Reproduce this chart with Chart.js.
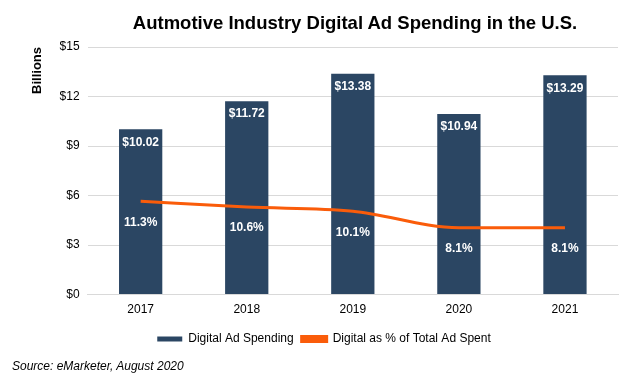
<!DOCTYPE html>
<html>
<head>
<meta charset="utf-8">
<script src="https://cdn.jsdelivr.net/npm/chart.js@4"></script>
<style>
  html, body { margin: 0; padding: 0; background: #fff; }
  #wrap { position: relative; width: 630px; height: 386px; }
  #title { position: absolute; left: 80px; width: 550px; top: 12px; text-align: center; font: bold 18.5px "Liberation Sans", Arial, sans-serif; color: #000; }
  #source { position: absolute; left: 12px; top: 359px; font: italic 12px "Liberation Sans", Arial, sans-serif; color: #000; }
</style>
</head>
<body>
<div id="wrap">
  <canvas id="chart-spend" width="630" height="386"></canvas>
  <div id="title">Autmotive Industry Digital Ad Spending in the U.S.</div>
  <div id="source">Source: eMarketer, August 2020</div>
</div>
<script>
const years = [`2017`, `2018`, `2019`, `2020`, `2021`];
const spending = [10.02, 11.72, 13.38, 10.94, 13.29];
const shareOfTotal = [11.3, 10.6, 10.1, 8.1, 8.1];
const dollarTicks = [0, 3, 6, 9, 12, 15];

const barColor = `#2b4663`;
const lineColor = `#fa5c0a`;
const font = `"Liberation Sans", Arial, sans-serif`;

// white value labels inside the bars
const valueLabels = {
  id: `valueLabels`,
  afterDatasetsDraw(chart) {
    const ctx = chart.ctx;
    ctx.save();
    ctx.fillStyle = `#fff`;
    ctx.font = `bold 12px ${font}`;
    ctx.textAlign = `center`;
    ctx.textBaseline = `middle`;
    chart.getDatasetMeta(1).data.forEach((bar, i) => {
      ctx.fillText(`$${spending[i].toFixed(2)}`, bar.x, bar.y + 13);
    });
    chart.getDatasetMeta(0).data.forEach((pt, i) => {
      ctx.fillText(`${shareOfTotal[i].toFixed(1)}%`, pt.x, pt.y + 21);
    });
    ctx.restore();
  }
};

const spendChart = new Chart(document.getElementById(`chart-spend`), {
  type: `bar`,
  data: {
    labels: years,
    datasets: [
      {
        type: `line`,
        label: `Digital as % of Total Ad Spent`,
        data: shareOfTotal,
        yAxisID: `pct`,
        borderColor: lineColor,
        backgroundColor: lineColor,
        borderWidth: 3,
        pointRadius: 0,
        cubicInterpolationMode: `monotone`,
        order: 0
      },
      {
        label: `Digital Ad Spending`,
        data: spending,
        yAxisID: `y`,
        backgroundColor: barColor,
        categoryPercentage: 0.8,
        barPercentage: 0.51,
        order: 1
      }
    ]
  },
  options: {
    responsive: false,
    animation: false,
    layout: { padding: { left: 30, right: 12, top: 47, bottom: 31 } },
    plugins: {
      legend: {
        position: `bottom`,
        reverse: true,
        labels: {
          color: `#000`,
          font: { family: font, size: 12 },
          boxWidth: 25,
          boxHeight: 5,
          padding: 8
        }
      },
      tooltip: { enabled: false }
    },
    scales: {
      x: {
        grid: { display: false, drawTicks: false },
        border: { color: `#d9d9d9` },
        ticks: { color: `#000`, font: { family: font, size: 12 }, padding: 8 }
      },
      y: {
        min: 0,
        max: 15,
        afterBuildTicks: (axis) => { axis.ticks = dollarTicks.map(v => ({ value: v })); },
        grid: { color: `#d9d9d9`, drawTicks: false },
        border: { display: false },
        ticks: {
          color: `#000`,
          font: { family: font, size: 12 },
          padding: 8,
          callback: (v) => `$${v}`
        },
        title: {
          display: true,
          text: `Billions`,
          align: `end`,
          color: `#000`,
          font: { family: font, size: 13, weight: `bold` },
          padding: { top: 0, bottom: 6 }
        }
      },
      pct: {
        display: false,
        min: 0,
        max: 30
      }
    }
  },
  plugins: [valueLabels]
});
</script>
</body>
</html>
